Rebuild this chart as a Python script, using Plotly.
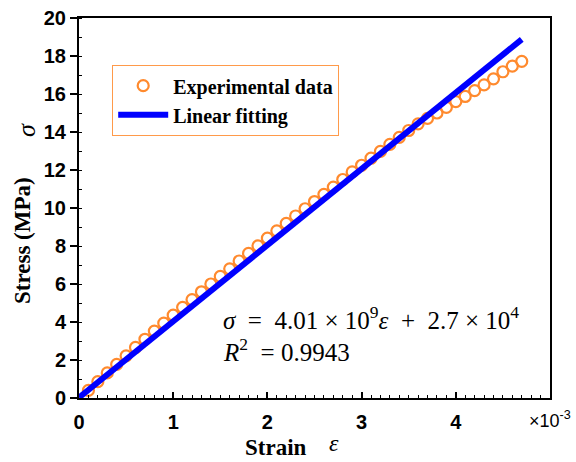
import plotly.graph_objects as go

# Strain in units of 1e-3, stress in MPa
strain = [0.1, 0.2, 0.3, 0.4, 0.5, 0.6, 0.7, 0.8, 0.9, 1.0,
          1.1, 1.2, 1.3, 1.4, 1.5, 1.6, 1.7, 1.8, 1.9, 2.0,
          2.1, 2.2, 2.3, 2.4, 2.5, 2.6, 2.7, 2.8, 2.9, 3.0,
          3.1, 3.2, 3.3, 3.4, 3.5, 3.6, 3.7, 3.8, 3.9, 4.0,
          4.1, 4.2, 4.3, 4.4, 4.5, 4.6, 4.7]
stress = [0.40, 0.86, 1.32, 1.77, 2.22, 2.66, 3.09, 3.52, 3.94, 4.36,
          4.77, 5.18, 5.59, 6.00, 6.40, 6.80, 7.21, 7.61, 8.01, 8.41,
          8.80, 9.19, 9.58, 9.96, 10.34, 10.72, 11.10, 11.50, 11.90, 12.25,
          12.62, 12.98, 13.35, 13.72, 14.08, 14.43, 14.72, 15.00, 15.30, 15.60,
          15.87, 16.18, 16.48, 16.80, 17.17, 17.47, 17.72]

fit_slope = 4.01      # MPa per 1e-3 strain  (4.01e9 Pa)
fit_intercept = 0.027 # MPa (2.7e4 Pa)
fit_x = [0.0, strain[-1]]
fit_y = [fit_slope * x + fit_intercept for x in fit_x]

x_ticks = [0, 1, 2, 3, 4]
y_ticks = [0, 2, 4, 6, 8, 10, 12, 14, 16, 18, 20]

ORANGE = "#FF8A2E"
BLUE = "#0000FF"

fig = go.Figure()
fig.add_trace(go.Scatter(
    x=strain, y=stress, mode="markers", name="<b>Experimental data</b>",
    marker=dict(symbol="circle-open", size=11, color=ORANGE, line=dict(width=2.2, color=ORANGE)),
))
fig.add_trace(go.Scatter(
    x=fit_x, y=fit_y, mode="lines", name="<b>Linear fitting</b>",
    line=dict(color=BLUE, width=6),
))

W, H = 576, 462
PL, PR, PT, PB = 79, 550, 18, 398   # plot area in page pixels
pw, ph = PR - PL, PB - PT

def px(xp):
    return (xp - PL) / pw

def py(yp):
    return (PB - yp) / ph

axis_common = dict(showgrid=False, zeroline=False, showline=True, linecolor="black",
                   linewidth=2, mirror=True, automargin=False, ticklabeloverflow="allow")

fig.update_xaxes(range=[0, 5], tickmode="array", tickvals=x_ticks,
                 ticktext=[str(v) for v in x_ticks],
                 ticks="inside", ticklen=6, tickwidth=1.5, tickcolor="black",
                 ticklabelstandoff=5,
                 tickfont=dict(family="Liberation Sans", size=20, color="black", weight="bold"),
                 minor=dict(tickmode="linear", tick0=0, dtick=0.1, ticks="inside",
                            ticklen=3, tickwidth=1.2, tickcolor="black"),
                 **axis_common)
fig.update_yaxes(range=[0, 20], tickmode="array", tickvals=y_ticks,
                 ticktext=[str(v) for v in y_ticks],
                 ticks="outside", ticklen=7, tickwidth=1.5, tickcolor="black",
                 tickfont=dict(family="Liberation Sans", size=20, color="black", weight="bold"),
                 minor=dict(tickmode="linear", tick0=0, dtick=1, ticks="inside",
                            ticklen=3, tickwidth=1.2, tickcolor="black"),
                 **axis_common)

def note(text, x, y, size, family="Liberation Serif", angle=0, xanchor="center"):
    return dict(text=text, x=px(x), y=py(y), xref="paper", yref="paper",
                xanchor=xanchor, yanchor="middle", textangle=angle, showarrow=False,
                font=dict(family=family, size=size, color="black"))

ann = [
    note("<b>Stress (MPa)</b>", 23, 241, 23, angle=-90),
    note("<i>σ</i>", 26, 130, 26, angle=-90),
    note("<b>Strain</b>", 276, 447, 23),
    note("<i>ε</i>", 334, 443, 24),
    note("×10<sup>-3</sup>", 550, 419, 18, family="Liberation Sans"),
    note("<i>σ</i>&nbsp; = &nbsp;4.01 × 10<sup>9</sup><i>ε</i>&nbsp; + &nbsp;2.7 × 10<sup>4</sup>",
         221, 318, 25, xanchor="left"),
    note("<i>R</i><sup>2</sup>&nbsp; = 0.9943", 221, 350, 25, xanchor="left"),
]

fig.update_layout(
    width=W, height=H,
    margin=dict(l=PL, r=W - PR, t=PT, b=H - PB, autoexpand=False),
    paper_bgcolor="white", plot_bgcolor="white",
    showlegend=True,
    legend=dict(x=px(112), y=py(65), xanchor="left", yanchor="top",
                bordercolor="#FF9A4A", borderwidth=1.2, bgcolor="white",
                itemwidth=50, tracegroupgap=0,
                font=dict(family="Liberation Serif", size=20, color="black")),
    annotations=ann,
)

fig.write_html("out.html", config={"displayModeBar": False},
               post_script="document.body.style.margin='0';document.body.style.padding='0';")
